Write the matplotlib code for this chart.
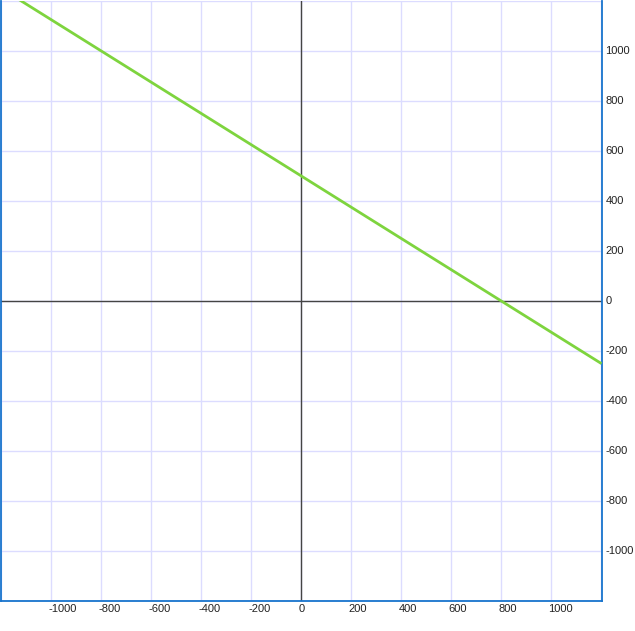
import matplotlib
matplotlib.use("Agg")
import matplotlib.pyplot as plt
from matplotlib.ticker import MultipleLocator
import numpy as np

line_x = [-1200, 1204]
line_y = [1250, -252.5]
x_ticks = [-1000, -800, -600, -400, -200, 0, 200, 400, 600, 800, 1000]
y_ticks = [-1000, -800, -600, -400, -200, 0, 200, 400, 600, 800, 1000]

W, H = 635, 631
fig = plt.figure(figsize=(W/100, H/100), dpi=100)
ax = fig.add_axes([0.5/W, (H-600.5)/H, 601/W, 600/H])
ax.set_xlim(-1200, 1204)
ax.set_ylim(-1200, 1200)

for v in range(-1200, 1201, 200):
    ax.axvline(v, color='#dcdcff', lw=1.0, zorder=1)
    ax.axhline(v, color='#dcdcff', lw=1.0, zorder=1)
ax.axvline(0, color='#444444', lw=1.0, zorder=2)
ax.axhline(0, color='#444444', lw=1.0, zorder=2)

ax.plot(line_x, line_y, color='#7ed43e', lw=2, zorder=3, solid_capstyle='butt')

ax.set_xticks([])
ax.set_yticks([])
for s in ['left', 'bottom', 'right']:
    ax.spines[s].set_color('#1874cd')
    ax.spines[s].set_linewidth(1.3)
ax.spines['top'].set_visible(False)

fp = dict(fontsize=8, color='#222222', family=['Liberation Sans', 'DejaVu Sans'])
import matplotlib.transforms as mt
tx = mt.blended_transform_factory(ax.transData, ax.transAxes)
for v in x_ticks:
    ax.text(v, 0, str(v), transform=tx + mt.ScaledTranslation(-2/100, -8/100, fig.dpi_scale_trans),
            ha='left', va='center', clip_on=False, **fp)
ty = mt.blended_transform_factory(ax.transAxes, ax.transData)
for v in y_ticks:
    ax.text(1, v, str(v), transform=ty + mt.ScaledTranslation(4/100, 0, fig.dpi_scale_trans),
            ha='left', va='center', clip_on=False, **fp)

fig.savefig('out.png', dpi=100)
